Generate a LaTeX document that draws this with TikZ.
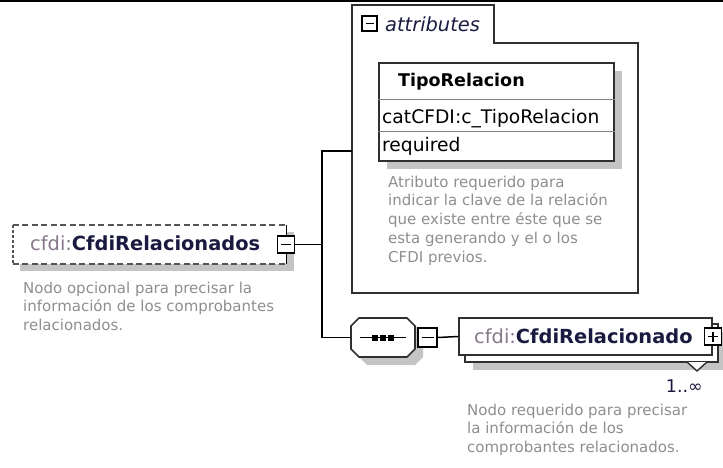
\documentclass[tikz,border=0pt]{standalone}
\usepackage{fontspec}
\setmainfont{Liberation Sans}
\newfontfamily\dvs{DejaVu Sans}
\usetikzlibrary{calc}
\definecolor{descgray}{HTML}{8E8E8E}
\definecolor{prefix}{HTML}{86788A}
\definecolor{navy}{HTML}{1A1A40}
\definecolor{shadowgray}{HTML}{C4C4C4}
\definecolor{linegray}{HTML}{303030}
\definecolor{dashgray}{HTML}{555555}
\begin{document}
\begin{tikzpicture}[x=1pt,y=-1pt,
  conn/.style={draw=black, line width=1.5pt},
  box/.style={draw=linegray, line width=1.7pt, fill=white, inner sep=0pt, rectangle},
  btn/.style={draw=black, line width=1.3pt, fill=white, minimum size=17pt, inner sep=0pt, rectangle},
  minusbtn/.style={btn, path picture={\draw[line width=1.3pt] ($(path picture bounding box.west)+(3.5pt,0)$) -- ($(path picture bounding box.east)+(-3.5pt,0)$);}},
  plusbtn/.style={btn, path picture={\draw[line width=1.3pt] ($(path picture bounding box.west)+(3.5pt,0)$) -- ($(path picture bounding box.east)+(-3.5pt,0)$) ($(path picture bounding box.north)+(0,-3.5pt)$) -- ($(path picture bounding box.south)+(0,3.5pt)$);}},
  desc/.style={anchor=north west, inner sep=0pt, align=left, text=descgray, font=\dvs\fontsize{15}{18.8}\selectfont},
  lbl/.style={anchor=base west, inner sep=0pt},
  namefont/.style={font=\dvs\fontsize{19.4}{22}\selectfont}
]
\useasboundingbox (0,0) rectangle (723,468);
\fill[black] (0,0) rectangle (723,2.5);

% ---------- left element ----------
\fill[shadowgray] (20,232) rectangle (294,271);
\node[fill=white, minimum width=273pt, minimum height=39pt, inner sep=0pt] (rel) at (149.5,244.5) {};
\draw[dashgray, line width=2pt, dash pattern=on 6pt off 3.5pt] (rel.north west) -- (rel.north east);
\draw[dashgray, line width=2pt, dash pattern=on 6pt off 3.5pt] (rel.south west) -- (rel.south east);
\draw[dashgray, line width=2pt, dash pattern=on 3pt off 2pt] (rel.north west) -- (rel.south west);
\draw[black, line width=1.4pt] (rel.north east) -- (rel.south east);
\node[minusbtn] (relbtn) at (rel.east) {};
\node[lbl, namefont] (relname) at (30,250) {\textcolor{prefix}{cfdi:}\textcolor{navy}{\bfseries CfdiRelacionados}};
\node[desc] (reldesc) at (23,281.5) {Nodo opcional para precisar la\\información de los comprobantes\\relacionados.};

% ---------- attributes ----------
\draw[linegray, line width=1.7pt] (352,293) -- (352,5) -- (494,5) -- (494,43) -- (638,43) -- (638,293) -- cycle;
\coordinate (attrin) at (352,151);
\node[minusbtn, minimum size=15pt] (attrbtn) at (369.5,23.5) {};
\node[lbl, namefont, text=navy] (attrlbl) at (385,32) {\itshape attributes};

\fill[shadowgray] (387,71) rectangle (622,169);
\node[box, minimum width=235pt, minimum height=98pt] (tipo) at (496.5,112) {};
\draw[gray, line width=1pt] ($(tipo.north west)+(0,37)$) -- ($(tipo.north east)+(0,37)$);
\draw[gray, line width=1pt] ($(tipo.north west)+(0,69)$) -- ($(tipo.north east)+(0,69)$);
\node[lbl, font=\dvs\bfseries\fontsize{17.5}{20}\selectfont] (tiponame) at (398,87) {TipoRelacion};
\node[lbl, font=\dvs\fontsize{18.7}{22}\selectfont] (tipotype) at (382,124) {catCFDI:c\_TipoRelacion};
\node[lbl, font=\dvs\fontsize{18.7}{22}\selectfont] (tipouse) at (382,152) {required};
\node[desc] (tipodesc) at (388,175.5) {Atributo requerido para\\indicar la clave de la relación\\que existe entre éste que se\\esta generando y el o los\\CFDI previos.};

% ---------- sequence ----------
\fill[shadowgray, shift={(8,8)}] (351,326) -- (359,318) -- (407,318) -- (415,326) -- (415,349) -- (407,357) -- (359,357) -- (351,349) -- cycle;
\node[minimum width=64pt, minimum height=39pt, inner sep=0pt] (seq) at (383,337.5) {};
\filldraw[fill=white, draw=linegray, line width=1.6pt] (351,326) -- (359,318) -- (407,318) -- (415,326) -- (415,349) -- (407,357) -- (359,357) -- (351,349) -- cycle;
\draw[black, line width=1.5pt] (360,337.5) -- (406,337.5);
\foreach \sx in {375,383,391} \fill[black] (\sx-3,334.5) rectangle (\sx+3,340.5);
\node[minusbtn, minimum size=19pt] (seqbtn) at (427.5,337.5) {};

% ---------- child element ----------
\fill[shadowgray] (473,332) rectangle (723,370);
\node[box, minimum width=253pt, minimum height=38pt] (childback) at (591.5,343) {};
\filldraw[fill=white, draw=linegray, line width=1.4pt] (687,362) -- (697,371) -- (707,362);
\node[box, minimum width=253pt, minimum height=37pt] (child) at (585.5,336.5) {};
\node[plusbtn] (childbtn) at (child.east) {};
\node[lbl, namefont] (childname) at (474,343.5) {\textcolor{prefix}{cfdi:}\textcolor{navy}{\bfseries CfdiRelacionado}};
\node[anchor=base east, inner sep=0pt, text=navy, font=\dvs\fontsize{17.5}{20}\selectfont] (card) at (703,392) {1..∞};
\node[desc] (childdesc) at (467,403.5) {Nodo requerido para precisar\\la información de los\\comprobantes relacionados.};

% ---------- connectors ----------
\coordinate (jn) at (322,244.5);
\draw[conn] (relbtn.east) -- (jn);
\draw[conn] (jn) |- (attrin);
\draw[conn] (jn) |- (seq.west);
\draw[conn] (seqbtn.east) -- (child.west);
\end{tikzpicture}
\end{document}
